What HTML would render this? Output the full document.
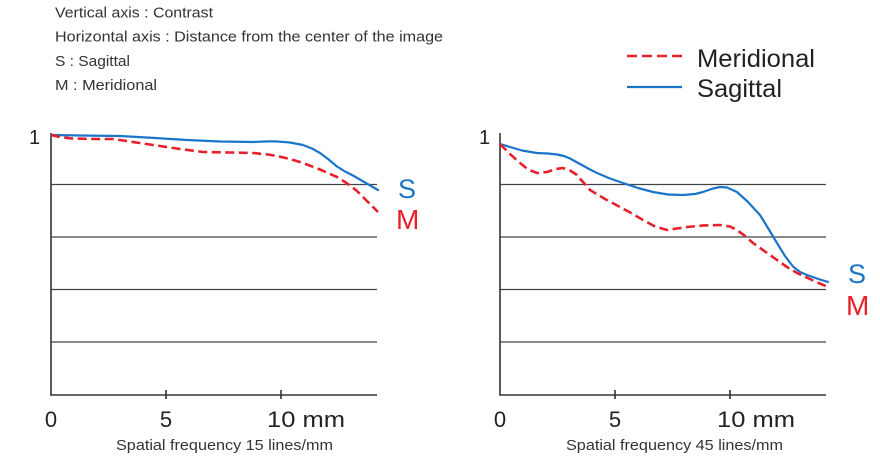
<!DOCTYPE html>
<html>
<head>
<meta charset="utf-8">
<style>
  html,body{margin:0;padding:0;background:#fff;}
  svg{display:block;}
  .t{font-family:"Liberation Sans",sans-serif;fill:#333;}
  .n{font-family:"Liberation Sans",sans-serif;fill:#222;}
</style>
</head>
<body>
<svg width="880" height="458" viewBox="0 0 880 458" xmlns="http://www.w3.org/2000/svg">
  <!-- header text -->
  <text class="t" x="55" y="17.5" font-size="15" textLength="158" lengthAdjust="spacingAndGlyphs">Vertical axis : Contrast</text>
  <text class="t" x="55" y="41.5" font-size="15" textLength="388" lengthAdjust="spacingAndGlyphs">Horizontal axis : Distance from the center of the image</text>
  <text class="t" x="55" y="66" font-size="15" textLength="75" lengthAdjust="spacingAndGlyphs">S : Sagittal</text>
  <text class="t" x="55" y="90" font-size="15" textLength="102" lengthAdjust="spacingAndGlyphs">M : Meridional</text>

  <!-- legend -->
  <line x1="627" y1="56" x2="682" y2="56" stroke="#e8202a" stroke-width="2.5" stroke-dasharray="10,5"/>
  <line x1="627" y1="87" x2="682" y2="87" stroke="#1a75c9" stroke-width="2.2"/>
  <text class="n" x="697" y="67" font-size="25" textLength="118" lengthAdjust="spacingAndGlyphs">Meridional</text>
  <text class="n" x="697" y="97" font-size="25" textLength="85" lengthAdjust="spacingAndGlyphs">Sagittal</text>

  <!-- LEFT CHART -->
  <g stroke="#444" stroke-width="1.2">
    <line x1="51" y1="184.5" x2="377" y2="184.5"/>
    <line x1="51" y1="237" x2="377" y2="237"/>
    <line x1="51" y1="289.5" x2="377" y2="289.5"/>
    <line x1="51" y1="342" x2="377" y2="342"/>
  </g>
  <g stroke="#333" stroke-width="1.6">
    <line x1="51" y1="133" x2="51" y2="395.5"/>
    <line x1="50.2" y1="395" x2="377" y2="395"/>
    <line x1="166" y1="390" x2="166" y2="399"/>
    <line x1="281" y1="390" x2="281" y2="399"/>
  </g>
  <text class="n" x="29" y="144" font-size="20">1</text>
  <text class="n" x="51" y="427" font-size="22" text-anchor="middle">0</text>
  <text class="n" x="166" y="427" font-size="22" text-anchor="middle">5</text>
  <text class="n" x="267" y="427" font-size="22" textLength="78" lengthAdjust="spacingAndGlyphs">10 mm</text>
  <text class="t" x="116" y="450" font-size="15" textLength="217" lengthAdjust="spacingAndGlyphs">Spatial frequency 15 lines/mm</text>

  <polyline fill="none" stroke="#1a75c9" stroke-width="2.2" stroke-linejoin="round" stroke-linecap="round"
    points="51,135 80,135.5 120,136 155,138 187,140 220,141.5 253,142 265,141.5 275,141.3 290,142.5 303,145 312,148.5 320,153 328,159 337,166.5 345,171.5 353,175.5 365,182.5 378,190"/>
  <polyline fill="none" stroke="#e8202a" stroke-width="2.6" stroke-dasharray="9,4.5" stroke-linejoin="round"
    points="51,135 60,137 70,138.3 90,139 113,139 133,142 153,145 180,149 203,152 230,152.5 253,153 268,154.5 277,156 290,159 303,163 320,169.5 337,177 345,182 350,185.5 357,191 363,197 370,204 378,212"/>
  <text x="398" y="198" font-family="Liberation Sans,sans-serif" font-size="27" fill="#1a75c9">S</text>
  <text x="396" y="229" font-family="Liberation Sans,sans-serif" font-size="28" fill="#e8202a">M</text>

  <!-- RIGHT CHART -->
  <g stroke="#444" stroke-width="1.2">
    <line x1="500" y1="184.5" x2="826" y2="184.5"/>
    <line x1="500" y1="237" x2="826" y2="237"/>
    <line x1="500" y1="289.5" x2="826" y2="289.5"/>
    <line x1="500" y1="342" x2="826" y2="342"/>
  </g>
  <g stroke="#333" stroke-width="1.6">
    <line x1="500" y1="133" x2="500" y2="395.5"/>
    <line x1="499.2" y1="395" x2="826" y2="395"/>
    <line x1="615" y1="390" x2="615" y2="399"/>
    <line x1="730" y1="390" x2="730" y2="399"/>
  </g>
  <text class="n" x="479" y="144" font-size="20">1</text>
  <text class="n" x="500" y="427" font-size="22" text-anchor="middle">0</text>
  <text class="n" x="615" y="427" font-size="22" text-anchor="middle">5</text>
  <text class="n" x="717" y="427" font-size="22" textLength="78" lengthAdjust="spacingAndGlyphs">10 mm</text>
  <text class="t" x="566" y="450" font-size="15" textLength="217" lengthAdjust="spacingAndGlyphs">Spatial frequency 45 lines/mm</text>

  <polyline fill="none" stroke="#1a75c9" stroke-width="2.2" stroke-linejoin="round" stroke-linecap="round"
    points="500,144 510,147 522,150.5 537,153 548,153.5 557,154.5 564,156 570,158.5 580,164 590,169.5 597,173 610,178.5 623,183 638,188 653,192 668,194.5 683,195 695,194 703,192 713,188.5 720,187 727,187.5 737,192 748,202 760,215 768,228 777,243 785,256 793,266.5 800,272 807,275 817,278.5 828,282"/>
  <polyline fill="none" stroke="#e8202a" stroke-width="2.6" stroke-dasharray="9,4.5" stroke-linejoin="round"
    points="500,144 510,154 520,163 528,169.5 537,173 547,172 556,169 563,168 570,170.5 577,175 583,182 590,190 605,199 620,207 632,213.5 643,220 655,226.5 667,230 677,228.5 687,227 703,225.5 720,225 730,226.5 737,230 745,236 753,243 765,251.5 777,260 787,267 797,273 812,280 828,287"/>
  <text x="848" y="283" font-family="Liberation Sans,sans-serif" font-size="27" fill="#1a75c9">S</text>
  <text x="846" y="315" font-family="Liberation Sans,sans-serif" font-size="28" fill="#e8202a">M</text>
</svg>
</body>
</html>
